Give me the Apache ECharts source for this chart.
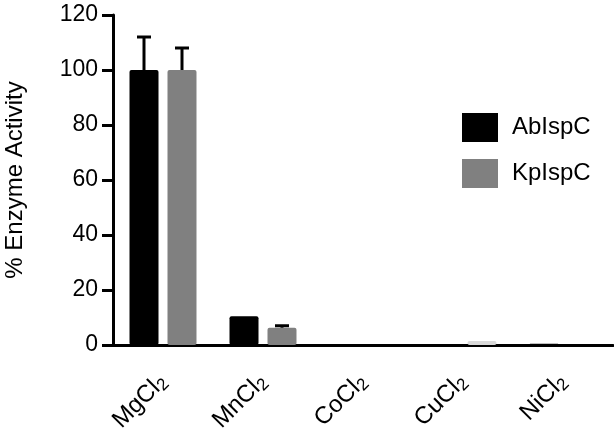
<!DOCTYPE html>
<html>
<head>
<meta charset="utf-8">
<script src="https://cdn.jsdelivr.net/npm/echarts@6/dist/echarts.min.js"></script>
<style>
  html, body { margin: 0; padding: 0; background: #fff; }
  #chart { width: 614px; height: 437px; }
</style>
</head>
<body>
<div id="chart"></div>
<script>
// data
var categories = ['MgCl', 'MnCl', 'CoCl', 'CuCl', 'NiCl'];
var abValues = [100, 10.5, 0, 0, 0.5];
var kpValues = [100, 6.3, 0, 1.5, 0];
var abError = [112, null, null, null, null];
var kpError = [108, 7, null, null, null];
var yTicks = [0, 20, 40, 60, 80, 100, 120];

var barW = 29;
var gapPx = 9;

var myChart = echarts.init(document.getElementById('chart'));

function errorSeries(name, tops, values, shift) {
  return {
    name: name + 'err',
    type: 'custom',
    z: 5,
    silent: true,
    data: tops.map(function (t, i) { return [i, values[i], t]; }),
    renderItem: function (params, api) {
      if (api.value(2) == null || isNaN(api.value(2))) return;
      var base = api.coord([api.value(0), api.value(1)]);
      var top = api.coord([api.value(0), api.value(2)]);
      var x = base[0] + shift;
      var half = 7;
      var st = { stroke: '#000', lineWidth: 3 };
      return {
        type: 'group',
        children: [
          { type: 'line', shape: { x1: x, y1: base[1], x2: x, y2: top[1] }, style: st },
          { type: 'line', shape: { x1: x - half, y1: top[1], x2: x + half, y2: top[1] }, style: st }
        ]
      };
    }
  };
}

var option = {
  animation: false,
  textStyle: { fontFamily: 'Liberation Sans, Arial, sans-serif' },
  grid: { left: 113, right: 1, top: 15, bottom: 92, outerBoundsMode: 'none', containLabel: false },
  legend: {
    orient: 'vertical',
    left: 462,
    top: 113,
    padding: 0,
    icon: 'rect',
    itemWidth: 36,
    itemHeight: 29,
    itemGap: 17,
    data: ['AbIspC', 'KpIspC'],
    textStyle: { fontSize: 24, color: '#000', padding: [0, 0, 0, 9] }
  },
  xAxis: {
    type: 'category',
    data: categories,
    axisLine: { lineStyle: { color: '#000', width: 3 } },
    axisTick: { alignWithLabel: true, length: 11, lineStyle: { color: '#000', width: 3 } },
    axisLabel: {
      interval: 0,
      rotate: 45,
      margin: 33,
      color: '#000',
      formatter: function (v) { return '{a|' + v + '}{s|2}'; },
      rich: {
        a: { fontSize: 24, color: '#000' },
        s: { fontSize: 17, color: '#000', padding: [10, 0, 0, 0] }
      }
    }
  },
  yAxis: {
    type: 'value',
    min: 0,
    max: 120,
    interval: 20,
    name: '% Enzyme Activity',
    nameLocation: 'middle',
    nameGap: 86,
    nameTextStyle: { fontSize: 24, color: '#000' },
    axisLine: { show: true, lineStyle: { color: '#000', width: 3 } },
    axisTick: { show: true, length: 11, lineStyle: { color: '#000', width: 3 } },
    axisLabel: {
      color: '#000',
      fontSize: 23,
      margin: 15,
      formatter: function (v) { return yTicks.indexOf(v) >= 0 ? String(v) : ''; }
    },
    splitLine: { show: false }
  },
  series: [
    {
      name: 'AbIspC',
      type: 'bar',
      data: abValues,
      barWidth: barW,
      barGap: (gapPx / barW * 100).toFixed(0) + '%',
      itemStyle: { color: '#000', borderRadius: 2 }
    },
    {
      name: 'KpIspC',
      type: 'bar',
      data: kpValues.map(function (v, i) {
        return i === 3 ? { value: v, itemStyle: { color: '#d9d9d9' } } : v;
      }),
      barWidth: barW,
      itemStyle: { color: '#808080', borderRadius: 2 }
    },
    errorSeries('AbIspC', abError, abValues, -(barW + gapPx) / 2),
    errorSeries('KpIspC', kpError, kpValues, (barW + gapPx) / 2)
  ]
};

myChart.setOption(option);
</script>
</body>
</html>
